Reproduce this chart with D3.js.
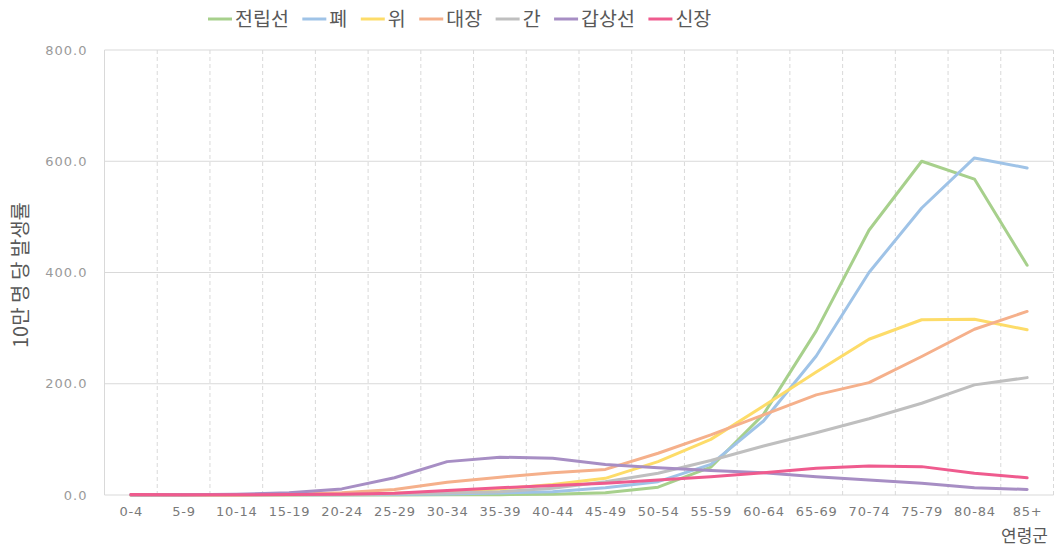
<!DOCTYPE html>
<html>
<head>
<meta charset="utf-8">
<script src="https://cdn.jsdelivr.net/npm/d3@7"></script>
<style>
  html, body { margin: 0; padding: 0; background: #fff; }
  svg { display: block; }
</style>
</head>
<body>
<svg id="chart" width="1056" height="547"></svg>
<script>
// data (incidence per 100k, by age group)
const ageGroups = ["0-4","5-9","10-14","15-19","20-24","25-29","30-34","35-39","40-44","45-49","50-54","55-59","60-64","65-69","70-74","75-79","80-84","85+"];
const prostate = [0.2,0.1,0.1,0.1,0.1,0.2,0.3,0.6,1.5,4,14,50,145,295,476,600,568,413];
const lung     = [0.3,0.2,0.3,0.4,0.6,1,2,3.5,6,13,24,55,133,250,400,516,606,588];
const stomach  = [0.1,0.1,0.2,0.5,1.5,3,6,11,19,30,60,100,160,221,280,315,316,297];
const colon    = [0.2,0.2,0.4,1.5,4,10,23,32,40,46,75,108,144,180,202,249,298,330];
const liver    = [0.5,0.2,0.3,0.6,1,2,3.5,6,12,24,39,62,88,112,137,165,198,211];
const thyroid  = [0.2,0.5,1.5,4,11,31,60,68,66,55,49,44,40,33,27,21,13,10];
const kidney   = [0.8,0.5,0.5,0.8,1.5,3,8,13,17,21,27,33,40,48,52,51,39,31];
const seriesNames = ["전립선","폐","위","대장","간","갑상선","신장"];
const seriesColors = ["#a7d08c","#9fc3e7","#fddc69","#f5b08b","#bfbfbf","#a78ec4","#ef5b8e"];
const yTicks = [0, 200, 400, 600, 800];

const series = [prostate, lung, stomach, colon, liver, thyroid, kidney].map((vals, i) => ({
    name: seriesNames[i], color: seriesColors[i], values: vals
}));

const svg = d3.select("#chart");
const W = 1056, H = 547;
const plot = { left: 104.5, right: 1053.5, top: 50, bottom: 495 };
const krFont = "'Noto Sans CJK KR', 'Noto Sans', sans-serif";
const numFont = "'DejaVu Sans', sans-serif";

svg.append("rect").attr("width", W).attr("height", H).attr("fill", "#fff");

const x = d3.scalePoint().domain(ageGroups).range([plot.left, plot.right]).padding(0.5);
const y = d3.scaleLinear().domain([0, 800]).range([plot.bottom, plot.top]);
const step = x.step();

// grid: horizontal solid, vertical dashed at category boundaries
const grid = svg.append("g");
grid.selectAll("line.h").data(yTicks).join("line")
    .attr("x1", plot.left).attr("x2", plot.right)
    .attr("y1", d => y(d)).attr("y2", d => y(d))
    .attr("stroke", "#d9d9d9").attr("stroke-width", 1);
const bounds = d3.range(1, ageGroups.length + 1).map(i => plot.left + i * step);
grid.selectAll("line.v").data(bounds).join("line")
    .attr("x1", d => d).attr("x2", d => d)
    .attr("y1", plot.top).attr("y2", plot.bottom)
    .attr("stroke", "#d9d9d9").attr("stroke-width", 1).attr("stroke-dasharray", "4,3");
grid.append("line")
    .attr("x1", plot.left).attr("x2", plot.left)
    .attr("y1", plot.top).attr("y2", plot.bottom)
    .attr("stroke", "#d9d9d9");

// y axis labels
const yAxis = svg.append("g").attr("transform", `translate(${plot.left},0)`)
    .call(d3.axisLeft(y).tickValues(yTicks).tickFormat(d3.format(".1f")).tickSize(0).tickPadding(17));
yAxis.select(".domain").remove();
yAxis.selectAll("text")
    .attr("fill", "#9a9a9a").style("font-family", numFont).style("font-size", "13px")
    .style("letter-spacing", "1px");

// x axis labels
const xAxis = svg.append("g").attr("transform", `translate(0,${plot.bottom})`)
    .call(d3.axisBottom(x).tickSize(0).tickPadding(12));
xAxis.select(".domain").remove();
xAxis.selectAll("text")
    .attr("fill", "#7a7a7a").style("font-family", numFont).style("font-size", "13px")
    .style("letter-spacing", "0.8px");

// axis titles
svg.append("text")
    .attr("transform", "translate(28,275) rotate(-90)")
    .attr("text-anchor", "middle")
    .attr("fill", "#595959").style("font-family", krFont).style("font-size", "20px")
    .text("10만 명 당 발생률");
svg.append("text")
    .attr("x", 1048).attr("y", 542).attr("text-anchor", "end")
    .attr("fill", "#595959").style("font-family", krFont).style("font-size", "17px")
    .text("연령군");

// lines
const line = d3.line()
    .x((d, i) => x(ageGroups[i]))
    .y(d => y(d));
svg.append("g").selectAll("path").data(series).join("path")
    .attr("d", d => line(d.values))
    .attr("fill", "none")
    .attr("stroke", d => d.color)
    .attr("stroke-width", 3)
    .attr("stroke-linejoin", "round")
    .attr("stroke-linecap", "round");

// legend across the top
const legend = svg.append("g");
let lx = 208;
series.forEach(s => {
    const g = legend.append("g");
    g.append("line")
        .attr("x1", lx).attr("x2", lx + 24).attr("y1", 19).attr("y2", 19)
        .attr("stroke", s.color).attr("stroke-width", 3);
    const t = g.append("text")
        .attr("x", lx + 27).attr("y", 26)
        .attr("fill", "#595959").style("font-family", krFont).style("font-size", "19.5px")
        .text(s.name);
    lx += 27 + t.node().getComputedTextLength() + 13.5;
});
</script>
</body>
</html>
